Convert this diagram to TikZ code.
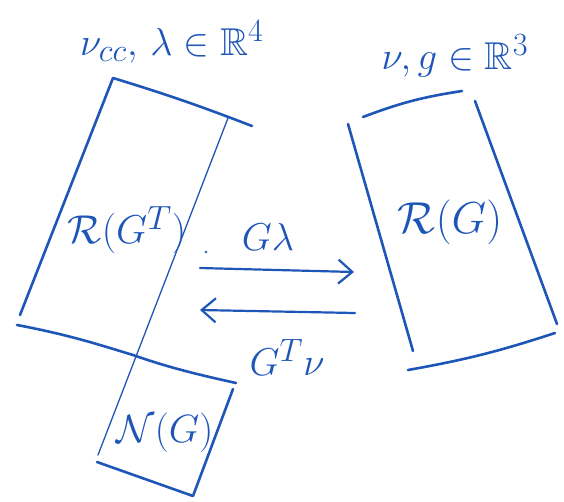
\documentclass[tikz,border=0pt]{standalone}
\usepackage{amsmath,amssymb}
\usetikzlibrary{arrows.meta}
\definecolor{ink}{HTML}{1E56B8}
\tikzset{
  thick line/.style={draw=ink, line width=2.6pt, line cap=round, line join=round},
  thin line/.style={draw=ink, line width=1.3pt, line cap=round},
  arrowline/.style={draw=ink, line width=2.2pt, line cap=round, -{Straight Barb[length=14pt,width=24pt,line width=2.2pt]}},
  lbl/.style={text=ink, inner sep=0pt, font=\Huge, scale=1.56},
  big/.style={text=ink, inner sep=0pt, font=\Huge, scale=1.8},
}
\begin{document}
\begin{tikzpicture}[x=1pt,y=-1pt]
\useasboundingbox (0,0) rectangle (564,501);
% coordinates of the left box R(G^T)
\coordinate (LTL) at (113,78);
\coordinate (LTR) at (252,126);
\coordinate (LRT) at (228,118);
\coordinate (LBL) at (20,315);
\coordinate (LB1) at (17,325);
\coordinate (LBM) at (133,355);
\coordinate (LB2) at (236,383);
% null space box
\coordinate (NRT) at (233,389);
\coordinate (NRB) at (193,496);
\coordinate (NBL) at (97,462);
\coordinate (NLB) at (98,455);
% right box R(G)
\coordinate (RT1) at (363,117);
\coordinate (RT2) at (462,91);
\coordinate (RLT) at (348,124);
\coordinate (RLB) at (413,351);
\coordinate (RRT) at (475,101);
\coordinate (RRB) at (557,324);
\coordinate (RB1) at (408,370);
\coordinate (RB2) at (555,333);
% arrow ends
\coordinate (A1s) at (200,268);
\coordinate (A1e) at (354,272);
\coordinate (A2s) at (355,313);
\coordinate (A2e) at (200,310);

% left box
\path[thick line] (LBL) -- (LTL) to[bend left=2] (LTR);
\path[thick line] (LB1) .. controls (70,335) and (100,345) .. (LBM) .. controls (170,368) and (200,375) .. (LB2);
\path[thin line] (LRT) -- (NLB);
% null space box
\path[thick line] (NRT) -- (NRB) -- (NBL);

% right box
\path[thick line] (RT1) to[bend left=6] (RT2);
\path[thick line] (RLT) -- (RLB);
\path[thick line] (RRT) -- (RRB);
\path[thick line] (RB1) to[bend right=4] (RB2);

% arrows
\path[arrowline] (A1s) -- (A1e);
\path[arrowline] (A2s) -- (A2e);
\fill[ink] (206,252) circle (1.3pt);

% labels
\node[lbl] (top1) at (172,42) {$\nu_{cc},\,\lambda \in \mathbb{R}^4$};
\node[lbl] (top2) at (455,56) {$\nu, g \in \mathbb{R}^3$};
\node[big, scale=0.9] (rgt) at (127,230) {$\mathcal{R}(G^{T})$};
\node[big] (rg) at (450,222) {$\mathcal{R}(G)$};
\node[big, scale=0.88] (ng) at (165,433) {$\mathcal{N}(G)$};
\node[lbl] (gl) at (268,237) {$G\lambda$};
\node[lbl] (gtn) at (287,357) {$G^{T}\nu$};
\end{tikzpicture}
\end{document}
